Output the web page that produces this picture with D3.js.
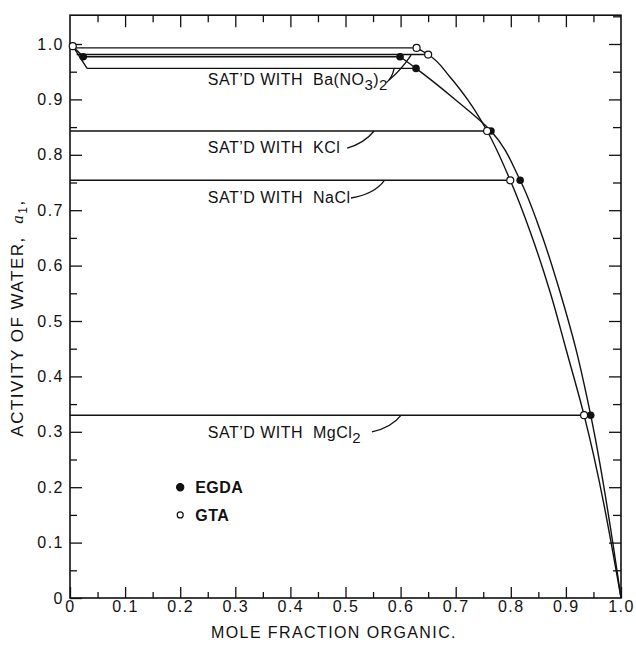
<!DOCTYPE html>
<html lang="en">
<head>
<meta charset="UTF-8">
<script src="https://d3js.org/d3.v7.min.js"></script>
<style>
    html, body { margin: 0; padding: 0; background: #fff; overflow: hidden }
    svg { display: block; font-family: "Liberation Sans", Arial, sans-serif; }
    .frame { fill: none; stroke: #111; stroke-width: 1.6px }
    .axis line { stroke: #111; stroke-width: 1.3px }
    .axis path { display: none }
    .axis text { fill: #111; font-size: 16px; letter-spacing: 1.5px; font-family: "Liberation Sans", Arial, sans-serif }
    .line { fill: none; stroke: #111; stroke-width: 1.4px }
    .leader { fill: none; stroke: #111; stroke-width: 1.3px }
    text { fill: #111 }
</style>
</head>
<body>
<svg id="chart" width="636" height="645"></svg>
<script>
// ---- values ----
const tickValues = [0, 0.1, 0.2, 0.3, 0.4, 0.5, 0.6, 0.7, 0.8, 0.9, 1.0];
const xTickLabels = ["0", "0.1", "0.2", "0.3", "0.4", "0.5", "0.6", "0.7", "0.8", "0.9", "1.0"];
const yTickLabels = ["0", "0.1", "0.2", "0.3", "0.4", "0.5", "0.6", "0.7", "0.8", "0.9", "1.0"];
const minorTicks = [0.05, 0.15, 0.25, 0.35, 0.45, 0.55, 0.65, 0.75, 0.85, 0.95, 1.05];

// tie lines (saturated solutions): start x, end x, water activity
const tieStart = [0.005, 0.012, 0.024, 0.031, 0, 0, 0];
const tieEnd = [0.629, 0.650, 0.599, 0.628, 0.757, 0.799, 0.933];
const tieAw = [0.993, 0.981, 0.977, 0.956, 0.843, 0.754, 0.330];

// short lines near the water corner
const cornerX = [[0.005, 0.031], [0.005, 0.024]];
const cornerY = [[0.996, 0.956], [0.996, 0.977]];

// solubility curves
const gtaCurveX = [0.629, 0.650, 0.690, 0.722, 0.757, 0.799, 0.836, 0.872, 0.900, 0.933, 1.0];
const gtaCurveY = [0.993, 0.981, 0.940, 0.899, 0.843, 0.754, 0.659, 0.550, 0.450, 0.330, 0];
const egdaCurveX = [0.599, 0.628, 0.700, 0.764, 0.817, 0.855, 0.890, 0.918, 0.945, 1.0];
const egdaCurveY = [0.977, 0.956, 0.899, 0.843, 0.754, 0.659, 0.550, 0.450, 0.330, 0];

// measured points
const gtaX = [0.005, 0.629, 0.650, 0.757, 0.799, 0.933];
const gtaY = [0.996, 0.993, 0.981, 0.843, 0.754, 0.330];
const egdaX = [0.024, 0.599, 0.628, 0.764, 0.817, 0.945];
const egdaY = [0.977, 0.977, 0.956, 0.843, 0.754, 0.330];

// labels for the salts
const saltNames = ["Ba(NO3)2", "KCl", "NaCl", "MgCl2"];
const saltLabelX = [0.25, 0.25, 0.25, 0.25];
const saltLabelY = [0.926, 0.803, 0.713, 0.289];
// leader curves: x0, y0, cx, cy, x1, y1
const leaders = [
    [0.579, 0.935, 0.601, 0.953, 0.619, 0.980],
    [0.574, 0.930, 0.585, 0.939, 0.588, 0.955],
    [0.503, 0.812, 0.534, 0.821, 0.552, 0.843],
    [0.510, 0.722, 0.552, 0.729, 0.570, 0.753],
    [0.548, 0.300, 0.583, 0.307, 0.601, 0.330]
];

const legendNames = ["EGDA", "GTA"];
const legendY = [0.2, 0.15];

// ---- chart ----
const svg = d3.select("#chart");
const x = d3.scaleLinear().domain([0, 1]).range([70, 621]);
const y = d3.scaleLinear().domain([0, 1]).range([598, 44]);
const yTop = 1.052;

svg.append("rect").attr("class", "frame")
    .attr("x", x(0)).attr("y", y(yTop))
    .attr("width", x(1) - x(0)).attr("height", y(0) - y(yTop));

// inward ticks on all four sides
function addAxis(axis, tx, ty, labels) {
    const g = svg.append("g").attr("class", "axis")
        .attr("transform", `translate(${tx},${ty})`).call(axis);
    if (!labels) g.selectAll("text").remove();
    return g;
}
addAxis(d3.axisLeft(y).tickValues(tickValues).tickSize(-12).tickPadding(6)
    .tickFormat((d, i) => yTickLabels[i]), x(0), 0, true);
addAxis(d3.axisLeft(y).tickValues(minorTicks.slice(0, 10)).tickSize(-7), x(0), 0, false);
addAxis(d3.axisBottom(x).tickValues(tickValues).tickSize(-11).tickPadding(3)
    .tickFormat((d, i) => xTickLabels[i]), 0, y(0), true);
addAxis(d3.axisBottom(x).tickValues(minorTicks.slice(0, 10)).tickSize(-6), 0, y(0), false);
addAxis(d3.axisTop(x).tickValues(tickValues.slice(1, 10)).tickSize(-12), 0, y(yTop), false);
addAxis(d3.axisTop(x).tickValues(minorTicks.slice(0, 10)).tickSize(-7), 0, y(yTop), false);
addAxis(d3.axisRight(y).tickValues(tickValues.slice(1)).tickSize(-12), x(1), 0, false);
addAxis(d3.axisRight(y).tickValues(minorTicks).tickSize(-8), x(1), 0, false);

// tie lines
svg.append("g").selectAll("line").data(tieAw).join("line")
    .attr("class", "line")
    .attr("x1", (d, i) => x(tieStart[i])).attr("x2", (d, i) => x(tieEnd[i]))
    .attr("y1", d => y(d)).attr("y2", d => y(d));

svg.append("g").selectAll("line").data(cornerX).join("line")
    .attr("class", "line")
    .attr("x1", d => x(d[0])).attr("x2", d => x(d[1]))
    .attr("y1", (d, i) => y(cornerY[i][0])).attr("y2", (d, i) => y(cornerY[i][1]));

// curves (monotone along the activity axis)
const curve = d3.line().x(d => x(d[0])).y(d => y(d[1])).curve(d3.curveMonotoneY);
svg.append("path").attr("class", "line").attr("d", curve(d3.zip(gtaCurveX, gtaCurveY)));
svg.append("path").attr("class", "line").attr("d", curve(d3.zip(egdaCurveX, egdaCurveY)));

// leaders
svg.append("g").selectAll("path").data(leaders).join("path")
    .attr("class", "leader")
    .attr("d", d => `M${x(d[0])},${y(d[1])}Q${x(d[2])},${y(d[3])} ${x(d[4])},${y(d[5])}`);

// salt labels
const labels = svg.append("g").style("font-size", "16px").style("letter-spacing", "0.5px");
saltNames.forEach((name, i) => {
    const t = labels.append("text").attr("x", x(saltLabelX[i])).attr("y", y(saltLabelY[i]))
        .attr("xml:space", "preserve");
    t.append("tspan").text("SAT\u2019D WITH  ");
    // split chemical formula into normal and subscript runs
    const parts = name.match(/[A-Za-z()]+|\d+/g);
    let sub = false;
    parts.forEach(p => {
        const isNum = /\d/.test(p);
        const s = t.append("tspan").text(p);
        if (isNum && !sub) { s.attr("dy", 5).style("font-size", "15px"); sub = true; }
        else if (!isNum && sub) { s.attr("dy", -5); sub = false; }
        else if (isNum && sub) { s.style("font-size", "15px"); }
    });
});

// points
svg.append("g").selectAll("circle").data(egdaX).join("circle")
    .attr("cx", d => x(d)).attr("cy", (d, i) => y(egdaY[i])).attr("r", 3.8)
    .attr("fill", "#111");
svg.append("g").selectAll("circle").data(gtaX).join("circle")
    .attr("cx", d => x(d)).attr("cy", (d, i) => y(gtaY[i])).attr("r", 3.5)
    .attr("fill", "#fff").attr("stroke", "#111").attr("stroke-width", 1.2);

// legend
const lg = svg.append("g");
lg.selectAll("circle").data(legendNames).join("circle")
    .attr("cx", x(0.2)).attr("cy", (d, i) => y(legendY[i]))
    .attr("r", (d, i) => i === 0 ? 3.6 : 3)
    .attr("fill", (d, i) => i === 0 ? "#111" : "#fff")
    .attr("stroke", "#111").attr("stroke-width", 1.2);
lg.selectAll("text").data(legendNames).join("text")
    .attr("x", x(0.2) + 15).attr("y", (d, i) => y(legendY[i]) + 6)
    .style("font-size", "16px").style("font-weight", "bold").style("letter-spacing", "0.5px")
    .text(d => d);

// axis titles
svg.append("text").attr("x", 334).attr("y", 638)
    .attr("text-anchor", "middle").style("font-size", "16px").style("letter-spacing", "1.4px")
    .text("MOLE FRACTION ORGANIC.");

const yt = svg.append("text").attr("transform", "translate(23,318) rotate(-90)")
    .attr("text-anchor", "middle").style("font-size", "17px").style("letter-spacing", "1.5px")
    .attr("xml:space", "preserve");
yt.append("tspan").text("ACTIVITY OF WATER,  ");
yt.append("tspan").text("a").style("font-style", "italic").style("font-family", "\"Liberation Serif\", serif");
yt.append("tspan").text("1").attr("dy", 4).style("font-size", "12px");
yt.append("tspan").text(",").attr("dy", -4);
</script>
</body>
</html>
